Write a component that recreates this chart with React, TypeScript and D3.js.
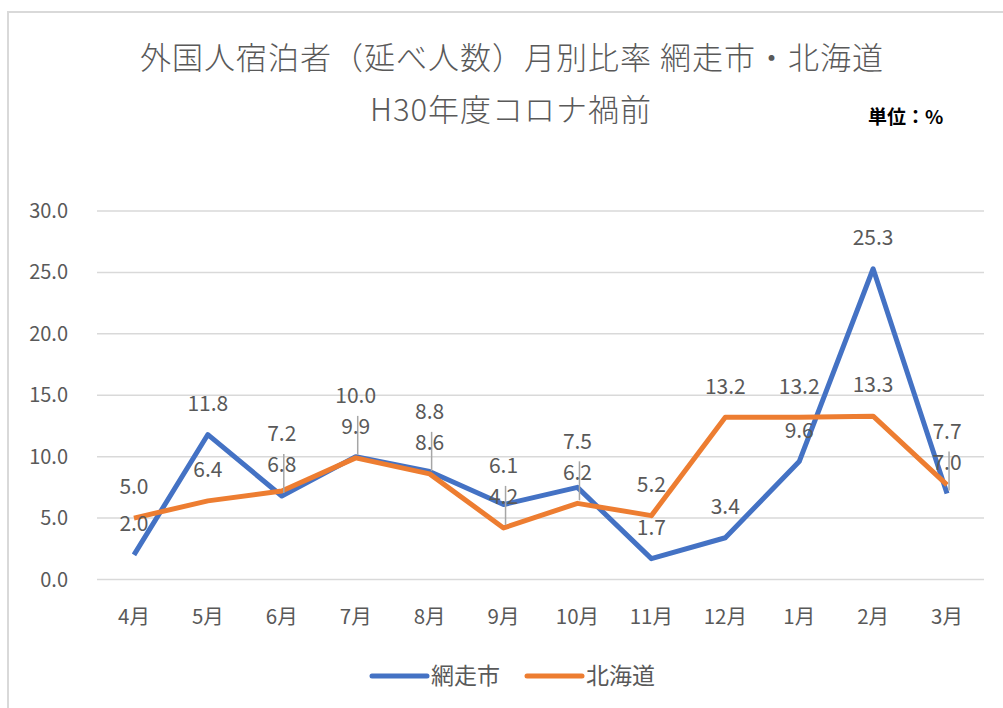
import React from 'react';
import * as d3 from 'd3';

const months = ['4月', '5月', '6月', '7月', '8月', '9月', '10月', '11月', '12月', '1月', '2月', '3月'];
const abashiri = [2.0, 11.8, 6.8, 10.0, 8.8, 6.1, 7.5, 1.7, 3.4, 9.6, 25.3, 7.0];
const hokkaido = [5.0, 6.4, 7.2, 9.9, 8.6, 4.2, 6.2, 5.2, 13.2, 13.2, 13.3, 7.7];
const yTicks = [0, 5, 10, 15, 20, 25, 30];

const series = [
  { name: '網走市', values: abashiri, color: '#4472C4' },
  { name: '北海道', values: hokkaido, color: '#ED7D31' },
];

const W = 1003;
const H = 708;
const margin = { left: 97, right: 19, top: 211, bottom: 128 };
const font = '"Noto Sans CJK JP", "Noto Sans", sans-serif';
const textColor = '#595959';

const App: React.FC = () => {
  const x = d3.scaleBand<string>()
    .domain(months)
    .range([margin.left, W - margin.right]);

  const y = d3.scaleLinear()
    .domain([0, 30])
    .range([H - margin.bottom - 0.5, margin.top]);

  const cx = (i: number) => (x(months[i]) as number) + x.bandwidth() / 2;

  const line = d3.line<number>()
    .x((_, i) => cx(i))
    .y(d => y(d));

  // data labels: default above the point, pushed apart when two collide
  const labels: { x: number; y: number; text: string; py: number; leader: boolean }[] = [];
  months.forEach((_, i) => {
    const items = series.map(s => ({
      x: cx(i),
      py: y(s.values[i]),
      y: y(s.values[i]) - 31,
      text: s.values[i].toFixed(1),
      leader: false,
    }));
    items.sort((a, b) => a.y - b.y);
    if (items[1].y - items[0].y < 31) {
      items[0].y = items[1].y - 31;
      items[1].leader = true;
    }
    labels.push(...items);
  });

  return (
    <svg width={W} height={H} style={{ position: 'absolute', left: 0, top: 0, background: '#fff' }}>
      <rect x={8} y={12} width={W} height={H} fill="#fff" stroke="#d9d9d9" strokeWidth={2} />

      <text x={512} y={58} textAnchor="middle" dy="0.35em" fontFamily={font} fontSize={31} fontWeight={300}
        letterSpacing={1} fill={textColor}>
        外国人宿泊者（延べ人数）月別比率 網走市・北海道
      </text>
      <text x={511} y={110} textAnchor="middle" dy="0.35em" fontFamily={font} fontSize={31} fontWeight={300}
        letterSpacing={1} fill={textColor}>
        H30年度コロナ禍前
      </text>
      <text x={868} y={117} dy="0.35em" fontFamily={font} fontSize={19} fontWeight="bold" fill="#000">
        単位：%
      </text>

      {yTicks.map(t => (
        <g key={t}>
          <line x1={margin.left} x2={W - margin.right} y1={y(t)} y2={y(t)} stroke="#d9d9d9" strokeWidth={1.5} />
          <text x={68} y={y(t)} dy="0.35em" textAnchor="end" fontFamily={font} fontSize={20} fill={textColor}>
            {t.toFixed(1)}
          </text>
        </g>
      ))}

      {months.map((m, i) => (
        <text key={m} x={cx(i)} y={617} dy="0.35em" textAnchor="middle" fontFamily={font} fontSize={20.5} fill={textColor}>
          {m}
        </text>
      ))}

      {series.map(s => (
        <path key={s.name} d={line(s.values) || ''} fill="none" stroke={s.color} strokeWidth={5} strokeLinejoin="round" />
      ))}

      {labels.filter(l => l.leader).map((l, i) => (
        <line key={'ld' + i} x1={l.x + 2} x2={l.x + 2} y1={l.y - 11} y2={l.py - 3} stroke="#a6a6a6" strokeWidth={1.5} />
      ))}
      {labels.map((l, i) => (
        <text key={'lb' + i} x={l.x} y={l.y} dy="0.35em" textAnchor="middle" fontFamily={font} fontSize={21} fill={textColor}>
          {l.text}
        </text>
      ))}

      {series.map((s, i) => {
        const lx = 372 + i * 155;
        return (
          <g key={'lg' + s.name}>
            <line x1={lx} x2={lx + 55} y1={676} y2={676} stroke={s.color} strokeWidth={5} strokeLinecap="round" />
            <text x={lx + 59} y={676} dy="0.35em" fontFamily={font} fontSize={23} fill={textColor}>
              {s.name}
            </text>
          </g>
        );
      })}
    </svg>
  );
};

export default App;
